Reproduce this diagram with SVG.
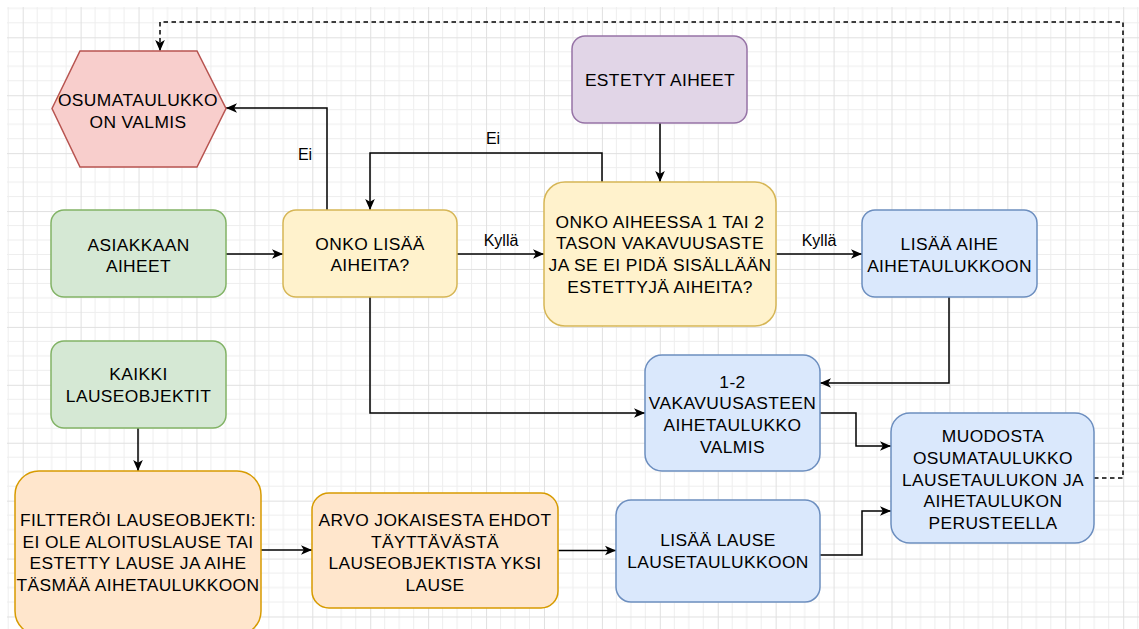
<svg xmlns="http://www.w3.org/2000/svg" width="1139" height="629" viewBox="0 0 1139 629">
  <style>
    .lbl { font-family: "Liberation Sans", Arial, sans-serif; font-size: 17.4px; letter-spacing: 0.4px; fill: #000; text-anchor: middle; }
    .elbl { font-family: "Liberation Sans", Arial, sans-serif; font-size: 16px; fill: #000; text-anchor: middle; }
    .edge { fill: none; stroke: #000; stroke-width: 1.5; marker-end: url(#arrow); }
    .dash { stroke-dasharray: 4.5 3.5; }
    .green { fill: #d5e8d4; stroke: #82b366; stroke-width: 1.5; }
    .yellow { fill: #fff2cc; stroke: #d6b656; stroke-width: 1.5; }
    .purple { fill: #e1d5e7; stroke: #9673a6; stroke-width: 1.5; }
    .blue { fill: #dae8fc; stroke: #6c8ebf; stroke-width: 1.5; }
    .orange { fill: #ffe6cc; stroke: #d79b00; stroke-width: 1.5; }
    .red { fill: #f8cecc; stroke: #b85450; stroke-width: 1.5; }
  </style>
  <defs>
    <pattern id="grid" patternUnits="userSpaceOnUse" x="22.7" y="37.3" width="57.92" height="57.92">
      <path d="M14.48 0V57.92M28.96 0V57.92M43.44 0V57.92M0 14.48H57.92M0 28.96H57.92M0 43.44H57.92" stroke="#eeeeee" stroke-width="1" fill="none"/>
      <path d="M0.5 0V57.92M0 0.5H57.92" stroke="#e0e0e0" stroke-width="1" fill="none"/>
    </pattern>
    <marker id="arrow" viewBox="0 0 10 10" refX="10" refY="5" markerWidth="11" markerHeight="11" markerUnits="userSpaceOnUse" orient="auto">
      <path d="M0,0.6 L10,5 L0,9.4 L2.6,5 Z" fill="#000"/>
    </marker>
  </defs>

  <!-- page background and drawing grid -->
  <rect x="0" y="0" width="1139" height="629" fill="#fff"/>
  <rect x="7" y="7" width="1132" height="622" fill="url(#grid)"/>

  <!-- connectors -->
  <g id="connectors">
    <path class="edge" d="M226 254H283"/>
    <path class="edge" d="M327 210V108H226"/>
    <path class="edge" d="M602 182V153H370V210"/>
    <path class="edge" d="M660 123V182"/>
    <path class="edge" d="M457 254H544"/>
    <path class="edge" d="M776 254H862"/>
    <path class="edge" d="M949 297V383H820"/>
    <path class="edge" d="M370 297V413H645"/>
    <path class="edge" d="M820 413H856V446H891"/>
    <path class="edge" d="M138 428V471"/>
    <path class="edge" d="M261 550H312"/>
    <path class="edge" d="M558 550.5H616"/>
    <path class="edge" d="M820 555H862V511H891"/>
    <path class="edge dash" d="M1094 478H1123V22H160V51"/>
    <text class="elbl" x="305" y="160">Ei</text>
    <text class="elbl" x="493" y="144">Ei</text>
    <text class="elbl" x="501" y="246">Kyllä</text>
    <text class="elbl" x="819" y="246">Kyllä</text>
  </g>

  <!-- nodes -->
  <g id="osumataulukko-valmis">
    <polygon class="red" points="52,108.5 80,51 197,51 226,108.5 197,167 80,167"/>
    <text class="lbl" x="138" y="106">OSUMATAULUKKO</text>
    <text class="lbl" x="138" y="127.5">ON VALMIS</text>
  </g>

  <g id="asiakkaan-aiheet">
    <rect class="green" x="51" y="210" width="175" height="87" rx="13"/>
    <text class="lbl" x="138.5" y="250.5">ASIAKKAAN</text>
    <text class="lbl" x="138.5" y="272">AIHEET</text>
  </g>

  <g id="onko-lisaa-aiheita">
    <rect class="yellow" x="283" y="210" width="174" height="87" rx="13"/>
    <text class="lbl" x="370" y="249.5">ONKO LISÄÄ</text>
    <text class="lbl" x="370" y="271">AIHEITA?</text>
  </g>

  <g id="estetyt-aiheet">
    <rect class="purple" x="572" y="36" width="175" height="87" rx="13"/>
    <text class="lbl" x="660" y="86">ESTETYT AIHEET</text>
  </g>

  <g id="vakavuusaste-kysymys">
    <rect class="yellow" x="544" y="182" width="232" height="144" rx="21"/>
    <text class="lbl" x="660" y="227.5">ONKO AIHEESSA 1 TAI 2</text>
    <text class="lbl" x="660" y="249">TASON VAKAVUUSASTE</text>
    <text class="lbl" x="660" y="271">JA SE EI PIDÄ SISÄLLÄÄN</text>
    <text class="lbl" x="660" y="292.5">ESTETTYJÄ AIHEITA?</text>
  </g>

  <g id="lisaa-aihe">
    <rect class="blue" x="862" y="210" width="175" height="87" rx="13"/>
    <text class="lbl" x="949.5" y="250">LISÄÄ AIHE</text>
    <text class="lbl" x="949.5" y="271.5">AIHETAULUKKOON</text>
  </g>

  <g id="aihetaulukko-valmis">
    <rect class="blue" x="645" y="355" width="175" height="116" rx="17"/>
    <text class="lbl" x="732.5" y="387.5">1-2</text>
    <text class="lbl" x="732.5" y="409">VAKAVUUSASTEEN</text>
    <text class="lbl" x="732.5" y="431">AIHETAULUKKO</text>
    <text class="lbl" x="732.5" y="452.5">VALMIS</text>
  </g>

  <g id="muodosta-osumataulukko">
    <rect class="blue" x="891" y="413" width="203" height="130" rx="19"/>
    <text class="lbl" x="993" y="442">MUODOSTA</text>
    <text class="lbl" x="993" y="463.5">OSUMATAULUKKO</text>
    <text class="lbl" x="993" y="485.5">LAUSETAULUKON JA</text>
    <text class="lbl" x="993" y="507">AIHETAULUKON</text>
    <text class="lbl" x="993" y="528.5">PERUSTEELLA</text>
  </g>

  <g id="kaikki-lauseobjektit">
    <rect class="green" x="51" y="341" width="175" height="87" rx="13"/>
    <text class="lbl" x="138.5" y="380">KAIKKI</text>
    <text class="lbl" x="138.5" y="401.5">LAUSEOBJEKTIT</text>
  </g>

  <g id="filteroi-lauseobjekti">
    <rect class="orange" x="15" y="471" width="246" height="164" rx="24"/>
    <text class="lbl" x="138" y="526">FILTTERÖI LAUSEOBJEKTI:</text>
    <text class="lbl" x="138" y="547.5">EI OLE ALOITUSLAUSE TAI</text>
    <text class="lbl" x="138" y="569">ESTETTY LAUSE JA AIHE</text>
    <text class="lbl" x="138" y="590.5">TÄSMÄÄ AIHETAULUKKOON</text>
  </g>

  <g id="arvo-lause">
    <rect class="orange" x="312" y="493" width="246" height="115" rx="17"/>
    <text class="lbl" x="435" y="526">ARVO JOKAISESTA EHDOT</text>
    <text class="lbl" x="435" y="547.5">TÄYTTÄVÄSTÄ</text>
    <text class="lbl" x="435" y="569">LAUSEOBJEKTISTA YKSI</text>
    <text class="lbl" x="435" y="590.5">LAUSE</text>
  </g>

  <g id="lisaa-lause">
    <rect class="blue" x="616" y="500" width="204" height="102" rx="15"/>
    <text class="lbl" x="718" y="546">LISÄÄ LAUSE</text>
    <text class="lbl" x="718" y="568">LAUSETAULUKKOON</text>
  </g>
</svg>
